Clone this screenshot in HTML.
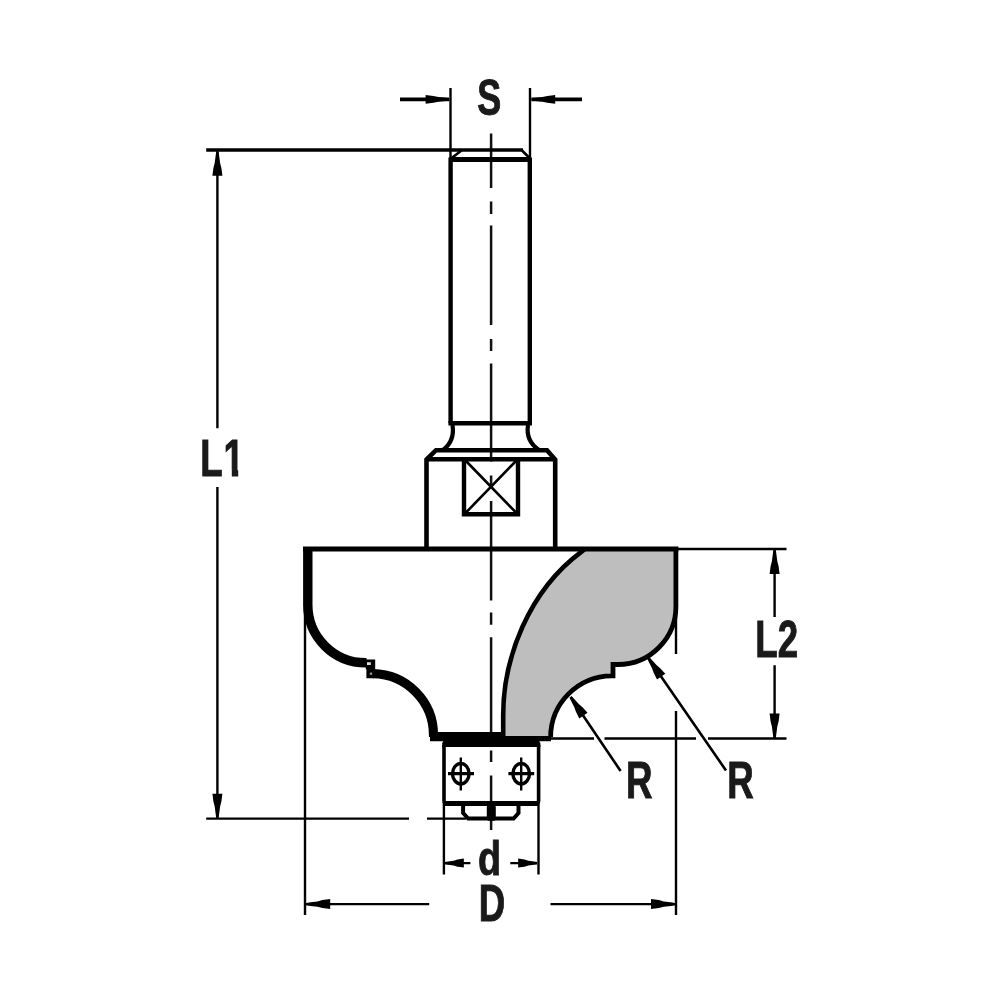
<!DOCTYPE html>
<html>
<head>
<meta charset="utf-8">
<title>Router bit drawing</title>
<style>
html,body{margin:0;padding:0;background:#fff;}
body{width:1000px;height:1000px;overflow:hidden;}
svg{display:block;}
text{font-family:"Liberation Sans",sans-serif;font-weight:bold;font-size:51.3px;fill:#1a1a1a;stroke:#1a1a1a;stroke-width:1px;stroke-linejoin:miter;}
</style>
</head>
<body>
<svg width="1000" height="1000" viewBox="0 0 1000 1000">
<rect width="1000" height="1000" fill="#fff"/>

<!-- gray cross-section -->
<path id="gray" d="M585 549H676V605.5A58 58 0 0 1 617.6 664.5H613V675.8H611.6A61.5 61.5 0 0 0 550.5 738H503.2V715C503.2 658.7 528.3 591.1 581.3 551.8Z" fill="#bebebe" stroke="none"/>

<!-- centerline -->
<g stroke="#111" stroke-width="2.5" fill="none">
<path d="M491.1 133.5V188 M491.1 201.5V214 M491.1 225.5V325 M491.1 339V351 M491.1 363.5V461.5 M491.1 475.5V487 M491.1 501V600.4 M491.1 612.4V624.8 M491.1 637.2V735 M491.1 750.5V762 M491.1 775.5V830"/>
</g>

<!-- thin dimension / extension lines -->
<g stroke="#000" stroke-width="2.4" fill="none">
<!-- S -->
<path d="M450.5 88V158 M530 88V158"/>
<!-- L1 -->
<path d="M217.4 151V428.2 M217.4 487V818"/>
<path d="M206.2 818.6H409 M427 818.6H466"/>
<!-- D -->
<path d="M305 604V915 M676 614V654 M676 711V915"/>
<path d="M306 904.1H429.2 M550.5 904.1H675.5"/>
<!-- d -->
<path d="M443.9 802V874.5 M538.5 802V874.5"/>
<path d="M445 863.1H470.4 M510.3 863.1H537"/>
<!-- L2 -->
<path d="M678 549H786.5"/>
<path d="M551 738.5H594 M604.5 738.5H696 M708 738.5H786.5"/>
<path d="M774.6 550V617 M774.6 665.2V738"/>
<!-- R leaders -->
<path d="M570.6 697L620.6 771 M648.3 658L726 770.5" stroke-width="2.6"/>
</g>
<path d="M206.2 150H523" stroke="#000" stroke-width="3.6" fill="none"/>
<path d="M461.5 150.5L451 158.5 M522 150.5L530 158.5" stroke="#000" stroke-width="2.6" fill="none"/>
<!-- S arrow shafts -->
<path d="M400 99.4H449 M531.5 99.4H582" stroke="#000" stroke-width="3.6" fill="none"/>

<!-- arrowheads -->
<g fill="#000" stroke="none">
<path d="M-1.2 0H1.2L1.8 4L2.7 11L4 16L5 23.8H-5L-4 16L-2.7 11L-1.8 4Z" transform="translate(449.4 99.4) rotate(90) scale(0.86 1)"/>
<path d="M-1.2 0H1.2L1.8 4L2.7 11L4 16L5 23.8H-5L-4 16L-2.7 11L-1.8 4Z" transform="translate(531.4 99.4) rotate(-90) scale(0.86 1)"/>
<path d="M-1.2 0H1.2L1.8 4L2.7 11L4 16L5 23.8H-5L-4 16L-2.7 11L-1.8 4Z" transform="translate(217.4 151.9)"/>
<path d="M-1.2 0H1.2L1.8 4L2.7 11L4 16L5 23.8H-5L-4 16L-2.7 11L-1.8 4Z" transform="translate(217.4 817.6) rotate(180)"/>
<path d="M-1.2 0H1.2L1.8 4L2.7 11L4 16L5 23.8H-5L-4 16L-2.7 11L-1.8 4Z" transform="translate(774.6 550.2)"/>
<path d="M-1.2 0H1.2L1.8 4L2.7 11L4 16L5 23.8H-5L-4 16L-2.7 11L-1.8 4Z" transform="translate(774.6 737.4) rotate(180)"/>
<path d="M-1.2 0H1.2L1.8 4L2.7 11L4 16L5 23.8H-5L-4 16L-2.7 11L-1.8 4Z" transform="translate(306.4 904.1) rotate(-90)"/>
<path d="M-1.2 0H1.2L1.8 4L2.7 11L4 16L5 23.8H-5L-4 16L-2.7 11L-1.8 4Z" transform="translate(674.8 904.1) rotate(90)"/>
<path d="M-1.2 0H1.2L1.8 4L2.7 11L4 16L5 23.8H-5L-4 16L-2.7 11L-1.8 4Z" transform="translate(444.8 863.1) rotate(-90) scale(0.9 0.8)"/>
<path d="M-1.2 0H1.2L1.8 4L2.7 11L4 16L5 23.8H-5L-4 16L-2.7 11L-1.8 4Z" transform="translate(537.2 863.1) rotate(90) scale(0.9 0.8)"/>
<path d="M-1.2 0H1.2L1.8 4L2.7 11L4 16L5 23.8H-5L-4 16L-2.7 11L-1.8 4Z" transform="translate(570.6 697) rotate(-34.6) scale(1 0.95)"/>
<path d="M-1.2 0H1.2L1.8 4L2.7 11L4 16L5 23.8H-5L-4 16L-2.7 11L-1.8 4Z" transform="translate(648.3 658) rotate(-34.6) scale(1 0.95)"/>
</g>

<!-- shank -->
<g stroke="#000" fill="none" stroke-linejoin="miter">
<path d="M450.6 423V157.5 M529.8 423V157.5" stroke-width="4.4"/>
<path d="M450.6 159.5H529.8" stroke-width="5.2"/>
<path d="M448.4 423.2H532" stroke-width="4.4"/>
<!-- neck -->
<path d="M452.5 425Q455 441 443 450" stroke-width="4.2"/>
<path d="M528 425Q525.5 441 539 450" stroke-width="4.2"/>
<!-- collar -->
<path d="M426.5 548V459.5L436 450.2H547L555.2 459.5V548" stroke-width="4.6"/>
<path d="M426.5 459.2H555.2" stroke-width="4.4"/>
<!-- square -->
<path d="M464 460V514.3H518V460" stroke-width="4.4"/>
<path d="M466 461L516 512.5 M516 461L466 512.5" stroke-width="2.6"/>
</g>

<!-- head -->
<g stroke="#000" fill="none">
<path d="M303 549H678.4" stroke-width="5.2"/>
<!-- left thick profile -->
<path d="M307.8 549V604.8A58 58 0 0 0 365.8 662.8H366.5" stroke-width="9.4"/>
<path d="M373 673.7A61.5 61.5 0 0 1 433.5 735.2V737" stroke-width="9.2"/>
<path d="M365.8 659.4H375.2V669.2H374V678.3H366.4V669.2H365.8Z" fill="#000" stroke="none"/>
<path d="M367 662.2H370.8V665H367Z" fill="#ddd" stroke="none"/>
<path d="M369.8 672.6H372.2V674.8H369.8Z" fill="#999" stroke="none"/>
<!-- right thin profile -->
<path d="M675.9 549V605.5A58 58 0 0 1 617.6 664.5H613V675.8H611.6A61.5 61.5 0 0 0 550.6 737" stroke-width="4.8"/>
<!-- big arc -->
<path d="M585 549L581.3 551.8C528.3 591.1 503.2 658.7 503.2 715V737" stroke-width="4.6"/>
</g>
<!-- bottom bar -->
<path d="M430 732H504V736H551V741.3H539.2L540.4 743V747H442.2V743L443.4 741.3H430Z" fill="#000"/>

<!-- bearing -->
<g stroke="#000" fill="none">
<path d="M444 745V800.5Q444 803.5 447 803.5H535.6Q538.6 803.5 538.6 800.5V745" stroke-width="3.6"/>
<path d="M444.5 803.6H538" stroke-width="5"/>
<!-- nut -->
<path d="M463.1 806V813L468.2 818.6H513.6L518.5 813V806" stroke-width="4"/>
<!-- screws -->
<ellipse cx="460.8" cy="773.7" rx="8.3" ry="10.2" stroke-width="3.4"/>
<ellipse cx="521.2" cy="773.7" rx="8.3" ry="10.2" stroke-width="3.4"/>
<path d="M448 773.7H474 M508.4 773.7H534.2" stroke-width="3.2"/>
<path d="M460.8 757.5V790.5 M521.2 757.5V790.5" stroke-width="2.4"/>
</g>
<rect x="486.8" y="805" width="9" height="15.8" rx="2" fill="#000"/>

<!-- labels -->
<defs>
<clipPath id="c1"><path d="M190 430H224.6V480H190Z M224.6 430H250V469.8H224.6Z M231.8 469H238.2V480H231.8Z"/></clipPath>
</defs>
<g opacity="0.999">
<text transform="translate(489.3 114.5) scale(0.7 0.985)" text-anchor="middle">S</text>
<g clip-path="url(#c1)"><text transform="translate(200.2 476) scale(0.715 1)" letter-spacing="1.2">L1</text></g>
<text transform="translate(776.7 657.2) scale(0.715 1)" text-anchor="middle">L2</text>
<text transform="translate(639.2 798.1) scale(0.715 1)" text-anchor="middle">R</text>
<text transform="translate(740.6 798.1) scale(0.715 1)" text-anchor="middle">R</text>
<text transform="translate(489.6 875.1) scale(0.735 0.945)" text-anchor="middle">d</text>
<text transform="translate(492.1 921) scale(0.715 1)" text-anchor="middle">D</text>
</g>
</svg>
</body>
</html>
